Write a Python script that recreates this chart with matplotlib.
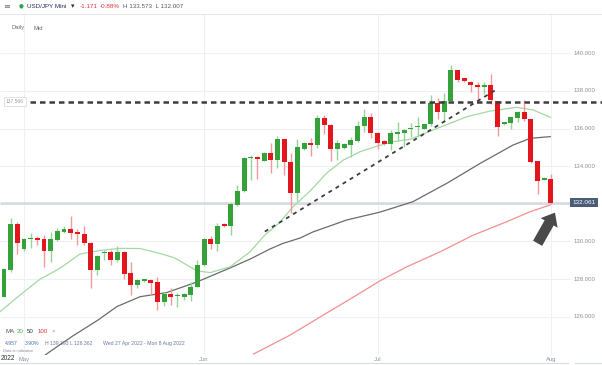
import matplotlib
matplotlib.use('Agg')
import matplotlib.pyplot as plt
import matplotlib.transforms as mtransforms
from matplotlib.lines import Line2D
import pandas as pd

plt.rcParams['font.family'] = ['Liberation Sans', 'DejaVu Sans']

# ---------------- data ----------------
all_days = pd.date_range('2022-04-27', '2022-08-01', freq='D')
dates = all_days[all_days.weekday != 5]          # daily FX bars, Sunday bars included

opens = [127.06, 128.48, 130.91, 129.58, 130.12, 130.17, 130.11, 129.51, 130.07, 130.52,
         130.68, 130.48, 130.38, 129.90, 128.48, 129.37, 129.45, 129.00, 129.42, 128.30,
         127.68, 127.92, 127.95, 127.86, 126.80, 127.20, 127.08, 127.06, 127.15, 127.60,
         128.75, 130.11, 129.86, 130.91, 130.82, 131.93, 132.70, 134.42, 134.50, 134.30,
         134.72, 134.33, 135.43, 134.24, 132.59, 134.90, 135.25, 135.12, 136.54, 136.19,
         134.90, 134.95, 135.12, 135.35, 136.15, 136.60, 135.75, 135.34, 135.16, 135.73,
         135.75, 135.98, 136.10, 135.98, 136.23, 137.37, 136.90, 137.46, 139.11, 138.67,
         138.49, 138.31, 138.20, 138.31, 137.46, 136.26, 136.30, 136.58, 136.90, 136.50,
         134.27, 133.28, 133.33]
highs = [128.57, 131.26, 131.05, 130.20, 130.46, 130.29, 130.34, 130.52, 130.69, 130.84,
         131.35, 130.66, 130.82, 129.95, 129.30, 129.55, 129.55, 129.76, 129.50, 128.92,
         128.00, 128.02, 128.00, 128.12, 127.30, 127.50, 127.24, 127.24, 127.86, 129.00,
         130.20, 130.30, 131.00, 131.00, 132.05, 133.00, 134.50, 134.60, 134.52, 134.75,
         135.22, 135.60, 135.45, 134.72, 135.43, 135.30, 135.48, 136.72, 136.72, 136.22,
         135.40, 135.25, 135.55, 136.42, 137.02, 136.82, 135.80, 135.40, 135.90, 136.36,
         136.00, 136.28, 136.63, 136.24, 137.78, 137.60, 137.87, 139.39, 139.11, 138.70,
         138.53, 138.46, 138.50, 138.88, 137.46, 136.35, 136.65, 136.92, 137.52, 136.50,
         134.27, 133.40, 133.573]
lows = [127.03, 128.37, 129.33, 129.50, 129.63, 129.81, 128.62, 128.90, 130.00, 130.42,
        130.11, 129.80, 129.80, 127.50, 128.20, 129.00, 128.76, 128.90, 127.99, 127.15,
        127.50, 127.85, 127.15, 126.36, 126.57, 126.60, 126.53, 126.90, 126.85, 127.55,
        128.70, 129.60, 129.50, 130.75, 130.35, 131.90, 132.60, 133.26, 133.30, 134.25,
        133.62, 133.89, 133.53, 131.50, 132.16, 134.85, 134.54, 134.95, 135.70, 134.29,
        134.35, 134.90, 134.50, 135.30, 135.83, 135.50, 134.92, 135.10, 134.87, 135.35,
        135.00, 135.57, 135.57, 135.95, 136.15, 136.50, 136.37, 137.46, 138.45, 138.50,
        137.93, 137.52, 137.85, 137.30, 135.62, 136.20, 135.95, 136.35, 136.40, 134.15,
        132.50, 133.25, 132.007]
closes = [128.52, 130.91, 129.90, 130.14, 130.17, 130.08, 129.51, 130.11, 130.55, 130.68,
          130.42, 130.38, 129.90, 128.48, 129.22, 129.45, 129.00, 129.45, 128.27, 127.68,
          127.95, 127.97, 127.80, 126.80, 127.20, 127.03, 127.12, 127.19, 127.60, 128.75,
          130.11, 129.86, 130.82, 130.82, 131.99, 132.70, 134.42, 134.50, 134.40, 134.72,
          134.33, 135.43, 134.24, 132.59, 135.00, 135.22, 135.12, 136.54, 136.19, 134.90,
          135.25, 135.16, 135.39, 136.15, 136.60, 135.75, 135.25, 135.18, 135.75, 135.78,
          135.94, 136.04, 136.14, 136.23, 137.37, 136.90, 137.46, 139.11, 138.58, 138.53,
          138.31, 138.20, 138.31, 137.50, 136.10, 136.33, 136.60, 136.90, 136.50, 134.24,
          133.23, 133.35, 132.061]

# moving averages (bar position, price)
ma20_pos = [-0.6, 2.4, 5.4, 8.4, 11.4, 14.4, 17.4, 20.4, 23.4, 25.6, 28.9, 30.9, 33.9, 36.9,
            39.1, 41.4, 43.3, 45.9, 48.4, 50.9, 53.4, 55.9, 58.3, 60.9, 64.3, 69.4, 72.9,
            76.9, 79.3, 81.9]
ma20_val = [126.26, 127.15, 127.99, 128.57, 129.33, 129.52, 129.63, 129.62, 129.36, 129.12,
            128.44, 128.34, 128.65, 129.45, 130.34, 131.03, 131.83, 132.68, 133.64, 134.33,
            134.77, 135.06, 135.30, 135.43, 135.92, 136.63, 136.93, 137.13, 136.99, 136.60]
ma50_pos = [5.6, 6.6, 10.3, 14.1, 16.9, 20.4, 24.4, 28.9, 33.9, 36.9, 39.9, 41.8, 44.4, 46.3,
            51.4, 56.4, 61.3, 66.4, 71.4, 76.3, 78.9, 81.9]
ma50_val = [123.80, 124.07, 124.97, 125.82, 126.53, 127.06, 127.28, 127.84, 128.59, 129.06,
            129.60, 129.89, 130.18, 130.50, 131.14, 131.56, 132.11, 133.09, 134.15, 135.12,
            135.48, 135.57]
ma100_pos = [37.4, 42.9, 47.9, 52.9, 56.4, 60.4, 65.4, 70.4, 75.4, 78.9, 81.9]
ma100_val = [124.01, 125.02, 126.09, 127.15, 127.91, 128.65, 129.45, 130.34, 131.05, 131.58,
             131.94]

price_ticks = [126, 128, 130, 132, 134, 136, 138, 140]
month_ticks = ['2022-05-01', '2022-06-01', '2022-07-01', '2022-08-01']
month_labels = ['May', 'Jun', 'Jul', 'Aug']
resistance = 137.43
resistance_label = '137.566'
trend_pos = [39.1, 73.9]
trend_val = [130.52, 138.09]
last_price = 132.061

# ---------------- figure ----------------
W, H = 602, 365
fig = plt.figure(figsize=(W / 100, H / 100), dpi=100)
fig.patch.set_facecolor('white')
top_px, bot_px = 14, 355
ax = fig.add_axes([0, 1 - bot_px / H, 1, (bot_px - top_px) / H])
bar_px = 6.67
x0 = -4 / bar_px
x1 = (W - 4) / bar_px
xr = (570 - 4) / bar_px
ax.set_xlim(x0, x1)
px_per = 18.81
y140 = 53.3
ylo = 140 - (bot_px - y140) / px_per
yhi = 140 + (y140 - top_px) / px_per
ax.set_ylim(ylo, yhi)
ax.axis('off')

blend_ay = mtransforms.blended_transform_factory(ax.transAxes, ax.transData)
blend_xa = mtransforms.blended_transform_factory(ax.transData, ax.transAxes)

grid_c = '#eef0f3'
ax.hlines(price_ticks, x0, xr, color=grid_c, lw=0.8, zorder=0)
idx = {d.strftime('%Y-%m-%d'): k for k, d in enumerate(dates)}
mpos = [idx[m] for m in month_ticks]
ax.vlines(mpos, ylo, yhi, color=grid_c, lw=0.8, zorder=0)

# current price line
ax.hlines([last_price], x0, xr, color='#d6d9df', lw=1.8, zorder=1)

# MAs
ax.plot(ma100_pos, ma100_val, color='#f29090', lw=0.9, zorder=2)
ax.plot(ma50_pos, ma50_val, color='#6b6b6b', lw=0.9, zorder=2)
ax.plot(ma20_pos, ma20_val, color='#a3d9a3', lw=0.9, zorder=2)

# candles
g_body, r_body = '#36a03a', '#e3151d'
g_wick, r_wick = '#98d398', '#f29a9a'
for i in range(len(opens)):
    o, h, l, c = opens[i], highs[i], lows[i], closes[i]
    up = c >= o
    ax.vlines(i, l, h, color=g_wick if up else r_wick, lw=1.0, zorder=3)
    ax.bar(i, max(abs(c - o), 0.06), bottom=min(o, c), width=0.74,
           color=g_body if up else r_body, lw=0, zorder=4)

# dashed lines
ax.plot([30 / W, 1], [resistance, resistance], transform=blend_ay, color='#3d3d3d',
        lw=1.8, ls=(0, (2.2, 1.6)), zorder=5, clip_on=False)
ax.plot(trend_pos, trend_val, color='#3d3d3d', lw=1.3, ls=(0, (2.2, 2.4)), zorder=5)

# arrow
ax.annotate('', xy=(82.6, 131.53), xytext=(80.0, 129.9),
            arrowprops=dict(arrowstyle='simple,head_length=0.85,head_width=1.4,tail_width=0.75',
                            fc='#4a4a4a', ec='none', shrinkA=0, shrinkB=0, mutation_scale=10),
            zorder=6)

# right price labels
for p in price_ticks:
    ax.text(584 / W, p, f'{p:.3f}', transform=blend_ay, ha='center', va='center',
            fontsize=4.3, color='#8a8f99')
ax.text(584 / W, last_price, f'{last_price:.3f}', transform=blend_ay, ha='center',
        va='center', fontsize=4.6, color='white', zorder=7,
        bbox=dict(boxstyle='square,pad=0.35', fc='#4b5c79', ec='none'))
ax.text(15 / W, resistance, resistance_label, transform=blend_ay, ha='center', va='center',
        fontsize=3.6, color='#9a9ea6', zorder=7,
        bbox=dict(boxstyle='square,pad=0.35', fc='white', ec='#d9dce1', lw=0.6))

# month labels
for pos, lab in zip(mpos, month_labels):
    ax.text(pos, -0.012, lab, transform=blend_xa, ha='center', va='center',
            fontsize=4.2, color='#8a8f99', clip_on=False)


def ftxt(x, y, s, **kw):
    kw.setdefault('va', 'center')
    fig.text(x / W, 1 - y / H, s, **kw)


ftxt(0.5, 358, '2022', fontsize=4.8, color='#333333')

# header
fig.add_artist(Line2D([0, 1], [1 - 13.5 / H] * 2, color='#e2e5ea', lw=0.7))
fig.add_artist(Line2D([0, 568 / W], [1 - 363 / H] * 2, color='#d8dbe0', lw=0.8))
fig.add_artist(Line2D([575 / W, 1], [1 - 363 / H] * 2, color='#d8dbe0', lw=0.8))
ftxt(3, 6, '≡', fontsize=6, color='#777777', family=['DejaVu Sans'])
ftxt(18.5, 6.3, '●', fontsize=4, color='#2fa84f', family=['DejaVu Sans'])
ftxt(27, 6, 'USD/JPY Mini', fontsize=4.5, color='#1f2c55')
ftxt(71, 6.5, '▾', fontsize=5, color='#333333', family=['DejaVu Sans'])
ftxt(80, 6, '-1.171', fontsize=4.5, color='#e0353b')
ftxt(100, 6, '-0.88%', fontsize=4.5, color='#e0353b')
ftxt(123, 6, 'H 133.573  L 132.007', fontsize=4.5, color='#555a66')
ftxt(12, 28, 'Daily', fontsize=4.2, color='#666a73')
ftxt(33, 28, 'Mid', fontsize=4.2, color='#666a73')

# legend block
ftxt(5, 331.5, 'MA', fontsize=4.4, color='#555a66')
ftxt(17, 331.5, '20', fontsize=4.4, color='#4db34d')
ftxt(27, 331.5, '50', fontsize=4.4, color='#333333')
ftxt(38, 331.5, '100', fontsize=4.4, color='#e0353b')
ftxt(52, 331.5, '×', fontsize=4.4, color='#999999')
ftxt(5, 343.3, '4.957', fontsize=3.7, color='#4b72b8')
ftxt(25, 343.3, '3.90%', fontsize=3.7, color='#4b72b8')
ftxt(45, 343.3, 'H 139.393', fontsize=3.7, color='#6b7a99')
ftxt(70, 343.3, 'L 126.362', fontsize=3.7, color='#6b7a99')
ftxt(103, 343.3, 'Wed 27 Apr 2022 - Mon 8 Aug 2022', fontsize=3.7, color='#6b7a99')
ftxt(3, 351, 'Data is indicative', fontsize=2.9, color='#888c94')

fig.savefig('out.png', dpi=100, facecolor='white')
